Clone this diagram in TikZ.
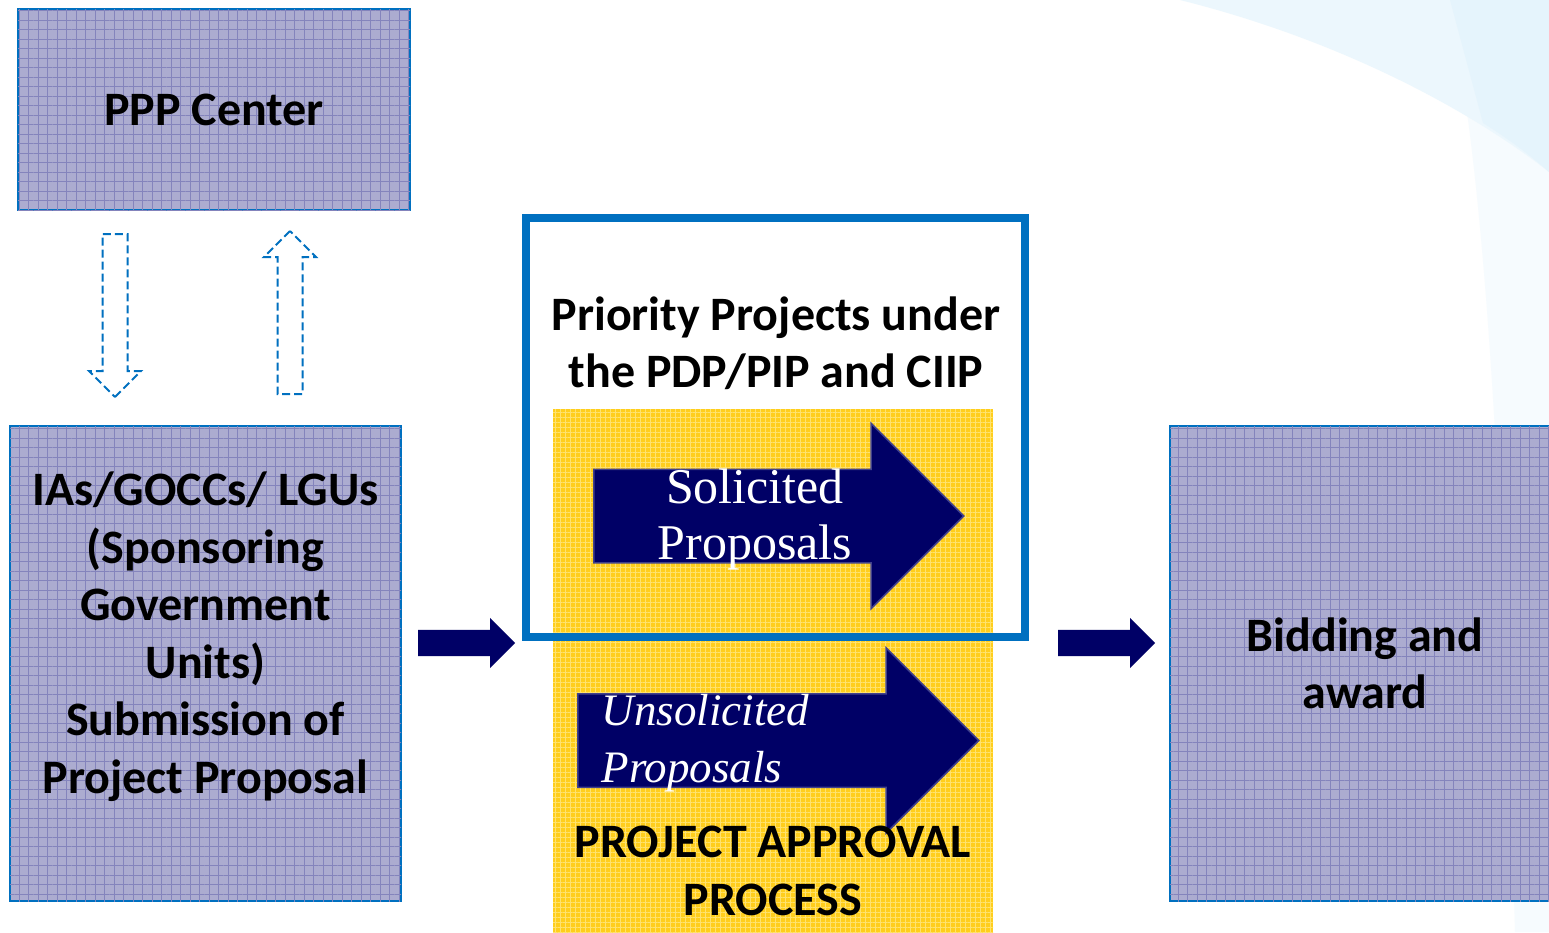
\documentclass[tikz,border=0pt]{standalone}
\usepackage{fontspec}
\setmainfont{Carlito}
\newfontfamily\proposalface{Liberation Serif}
\usetikzlibrary{shapes.arrows, patterns.meta}

\definecolor{lavender}{RGB}{172,172,208}
\definecolor{gridline}{RGB}{132,132,188}
\definecolor{frameblue}{RGB}{0,112,192}
\definecolor{navy}{RGB}{0,0,102}
\definecolor{gold}{RGB}{255,206,28}
\definecolor{goldgrid}{RGB}{255,226,110}
\definecolor{skyback}{RGB}{236,247,253}
\definecolor{skydeep}{RGB}{229,244,252}
\definecolor{skyfaint}{RGB}{246,251,254}

\tikzstyle{stage} = [rectangle, draw=frameblue, line width=2pt, fill=lavender, inner sep=0pt,
    postaction={pattern={Lines[distance=9.5pt,line width=0.6pt]}, pattern color=gridline},
    postaction={pattern={Lines[angle=90,distance=9.5pt,line width=0.6pt]}, pattern color=gridline}]
\tikzstyle{approval} = [rectangle, fill=gold, inner sep=0pt,
    postaction={pattern={Lines[distance=5pt,line width=0.5pt]}, pattern color=goldgrid},
    postaction={pattern={Lines[angle=90,distance=5pt,line width=0.5pt]}, pattern color=goldgrid}]
\tikzstyle{bigarrow} = [single arrow, anchor=tail, fill=navy, draw=navy!75!white, line width=1.5pt, inner xsep=0pt, inner ysep=46pt, single arrow head extend=46pt]
\tikzstyle{linkarrow} = [single arrow, anchor=tail, fill=navy, inner xsep=0pt, inner ysep=13pt, single arrow head extend=12pt, minimum height=97pt]
\tikzstyle{dasharrow} = [single arrow, anchor=tail, draw=frameblue, line width=2pt, dash pattern=on 8pt off 4pt, inner xsep=0pt, inner ysep=11.5pt, single arrow head extend=13.5pt, minimum height=163pt]
\tikzstyle{caption} = [font=\bfseries\fontsize{48}{57.5}\selectfont, align=center, text=black]
\tikzstyle{proposal} = [font=\proposalface\fontsize{50}{56}\selectfont, text=white]
\tikzstyle{proposalit} = [font=\proposalface\itshape\fontsize{45}{57}\selectfont, text=white]

\begin{document}
\begin{tikzpicture}[x=1pt, y=-1pt]

    \clip (0,0) rectangle (1549,932);
    \fill[white] (0,0) rectangle (1549,932);

    % light swoosh in the corner
    \fill[skyfaint] (1448,0) .. controls (1480,150) and (1500,400) .. (1515,932) -- (1549,932) -- (1549,0) -- cycle;
    \fill[skyback] (1180,0) .. controls (1340,40) and (1470,110) .. (1549,172) -- (1549,0) -- cycle;
    \fill[skydeep] (1450,0) -- (1483,123) .. controls (1510,140) and (1530,155) .. (1549,172) -- (1549,0) -- cycle;

    \node (ppp) [stage, minimum width=392pt, minimum height=201pt] at (214,109.5) {};
    \node (ppp_text) [caption] at (ppp.center) {PPP Center};

    \node (to_ppp) [dasharrow, rotate=90] at (290,395) {};
    \node (from_ppp) [dasharrow, rotate=-90] at (115,233) {};

    \node (sponsor) [stage, minimum width=391pt, minimum height=475pt] at (205.5,663.5) {};
    \node (sponsor_text) [caption, yshift=27pt] at (sponsor.center) {IAs/GOCCs/ LGUs\\(Sponsoring\\Government\\Units)\\Submission of\\Project Proposal};

    \node (bidding) [stage, minimum width=390pt, minimum height=475pt] at (1365,663.5) {};
    \node (bidding_text) [caption] at (bidding.center) {Bidding and\\award};

    \node (approval) [approval, minimum width=440pt, minimum height=531pt] at (773,674.5) {};

    \node (solicited) [bigarrow, minimum height=370pt] at (593,516) {};
    \node (solicited_text) [proposal, align=center] at (755,519) {Solicited\\Proposals};

    \node (unsolicited) [bigarrow, minimum height=401pt] at (577,740.5) {};
    \node (unsolicited_text) [proposalit, align=left, anchor=west] at (598,743) {Unsolicited\\Proposals};

    \node (priority) [rectangle, draw=frameblue, line width=8pt, minimum width=499pt, minimum height=419pt] at (775.5,427.5) {};
    \node (priority_text) [caption] at (776,343) {Priority Projects under\\the PDP/PIP and CIIP};

    \node (approval_text) [caption] at (773,871) {PROJECT APPROVAL\\PROCESS};

    \node (into_approval) [linkarrow] at (418,643) {};
    \node (into_bidding) [linkarrow] at (1058,643) {};

\end{tikzpicture}
\end{document}
